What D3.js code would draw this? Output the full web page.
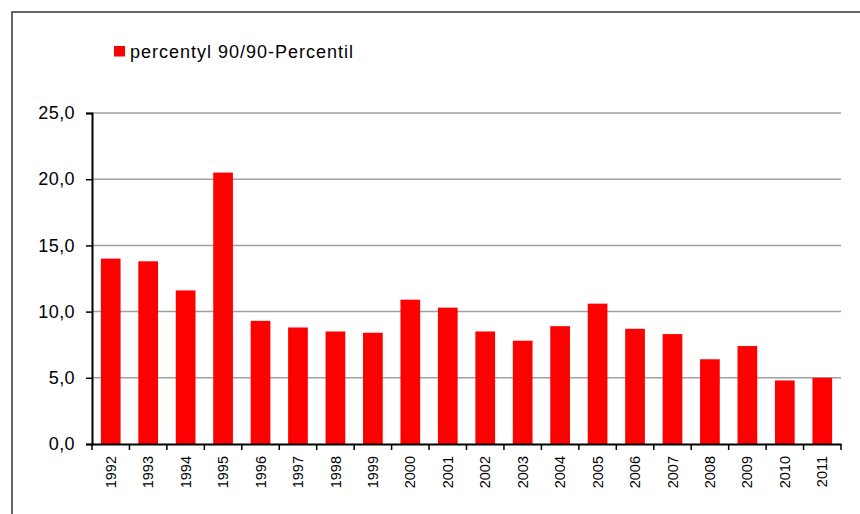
<!DOCTYPE html>
<html>
<head>
<meta charset="utf-8">
<script src="https://cdn.jsdelivr.net/npm/d3@7"></script>
<style>
  html, body { margin: 0; padding: 0; background: #fff; }
  svg { display: block; font-family: "Liberation Sans", Arial, sans-serif; }
</style>
</head>
<body>
<svg id="chart" width="860" height="514"></svg>
<script>
// data
const years = ["1992","1993","1994","1995","1996","1997","1998","1999","2000","2001",
  "2002","2003","2004","2005","2006","2007","2008","2009","2010","2011"];
const percentile90 = [14.0, 13.8, 11.6, 20.5, 9.3, 8.8, 8.5, 8.4, 10.9, 10.3,
  8.5, 7.8, 8.9, 10.6, 8.7, 8.3, 6.4, 7.4, 4.8, 5.0];
const yTicks = [0, 5, 10, 15, 20, 25];
const seriesName = "percentyl 90/90-Percentil";

const svg = d3.select("#chart");
const plotLeft = 92, plotRight = 841, plotTop = 113, plotBottom = 444;

// outer frame
svg.append("rect")
  .attr("x", 12).attr("y", 12)
  .attr("width", 900).attr("height", 600)
  .attr("fill", "none")
  .attr("stroke", "#333")
  .attr("stroke-width", 1.5);

const x = d3.scaleBand()
  .domain(years)
  .range([plotLeft, plotRight])
  .paddingInner(0.9 / 1.9)
  .paddingOuter(0.45 / 1.9);

const y = d3.scaleLinear()
  .domain([0, 25])
  .range([plotBottom, plotTop]);

const fmt = d => d3.format(".1f")(d).replace(".", ",");

// gridlines
svg.append("g")
  .selectAll("line")
  .data(yTicks.filter(d => d > 0))
  .enter()
  .append("line")
  .attr("x1", plotLeft).attr("x2", plotRight)
  .attr("y1", d => y(d)).attr("y2", d => y(d))
  .attr("stroke", "#a0a0a0")
  .attr("stroke-width", 1.5);

// bars
svg.append("g")
  .selectAll("rect")
  .data(percentile90)
  .enter()
  .append("rect")
  .attr("x", (d, i) => x(years[i]))
  .attr("y", d => y(d))
  .attr("width", x.bandwidth())
  .attr("height", d => y(0) - y(d))
  .attr("fill", "#ff0000");

// y axis
const axisY = svg.append("g")
  .attr("transform", `translate(${plotLeft},0)`)
  .call(d3.axisLeft(y).tickValues(yTicks).tickFormat(fmt).tickSize(6).tickPadding(11));
axisY.select(".domain").attr("stroke", "#000").attr("stroke-width", 2);
axisY.selectAll(".tick line").attr("stroke", "#000").attr("stroke-width", 1.5);
axisY.selectAll(".tick text")
  .attr("fill", "#000")
  .style("font-size", "18px")
  .style("letter-spacing", "0.4px")
  .style("font-family", "'Liberation Sans', Arial, sans-serif");

// x axis
const axisX = svg.append("g")
  .attr("transform", `translate(0,${plotBottom})`)
  .call(d3.axisBottom(x).tickSize(0).tickSizeOuter(0));
axisX.select(".domain").attr("stroke", "#000").attr("stroke-width", 2);
axisX.selectAll(".tick text")
  .attr("fill", "#000")
  .attr("transform", "rotate(-90)")
  .attr("text-anchor", "end")
  .attr("x", -12)
  .attr("y", 0)
  .attr("dy", "0.35em")
  .style("font-size", "14.5px")
  .style("font-family", "'Liberation Sans', Arial, sans-serif");

// category boundary ticks
axisX.append("g")
  .selectAll("line")
  .data(d3.range(years.length + 1))
  .enter()
  .append("line")
  .attr("x1", i => plotLeft + i * x.step())
  .attr("x2", i => plotLeft + i * x.step())
  .attr("y1", 0).attr("y2", 6)
  .attr("stroke", "#000")
  .attr("stroke-width", 1.5);

// legend
const legend = svg.append("g");
legend.append("rect")
  .attr("x", 114).attr("y", 46)
  .attr("width", 11).attr("height", 10.5)
  .attr("fill", "#ff0000");
legend.append("text")
  .attr("x", 130).attr("y", 57.5)
  .style("font-size", "18px")
  .style("letter-spacing", "1px")
  .attr("fill", "#000")
  .text(seriesName);
</script>
</body>
</html>
